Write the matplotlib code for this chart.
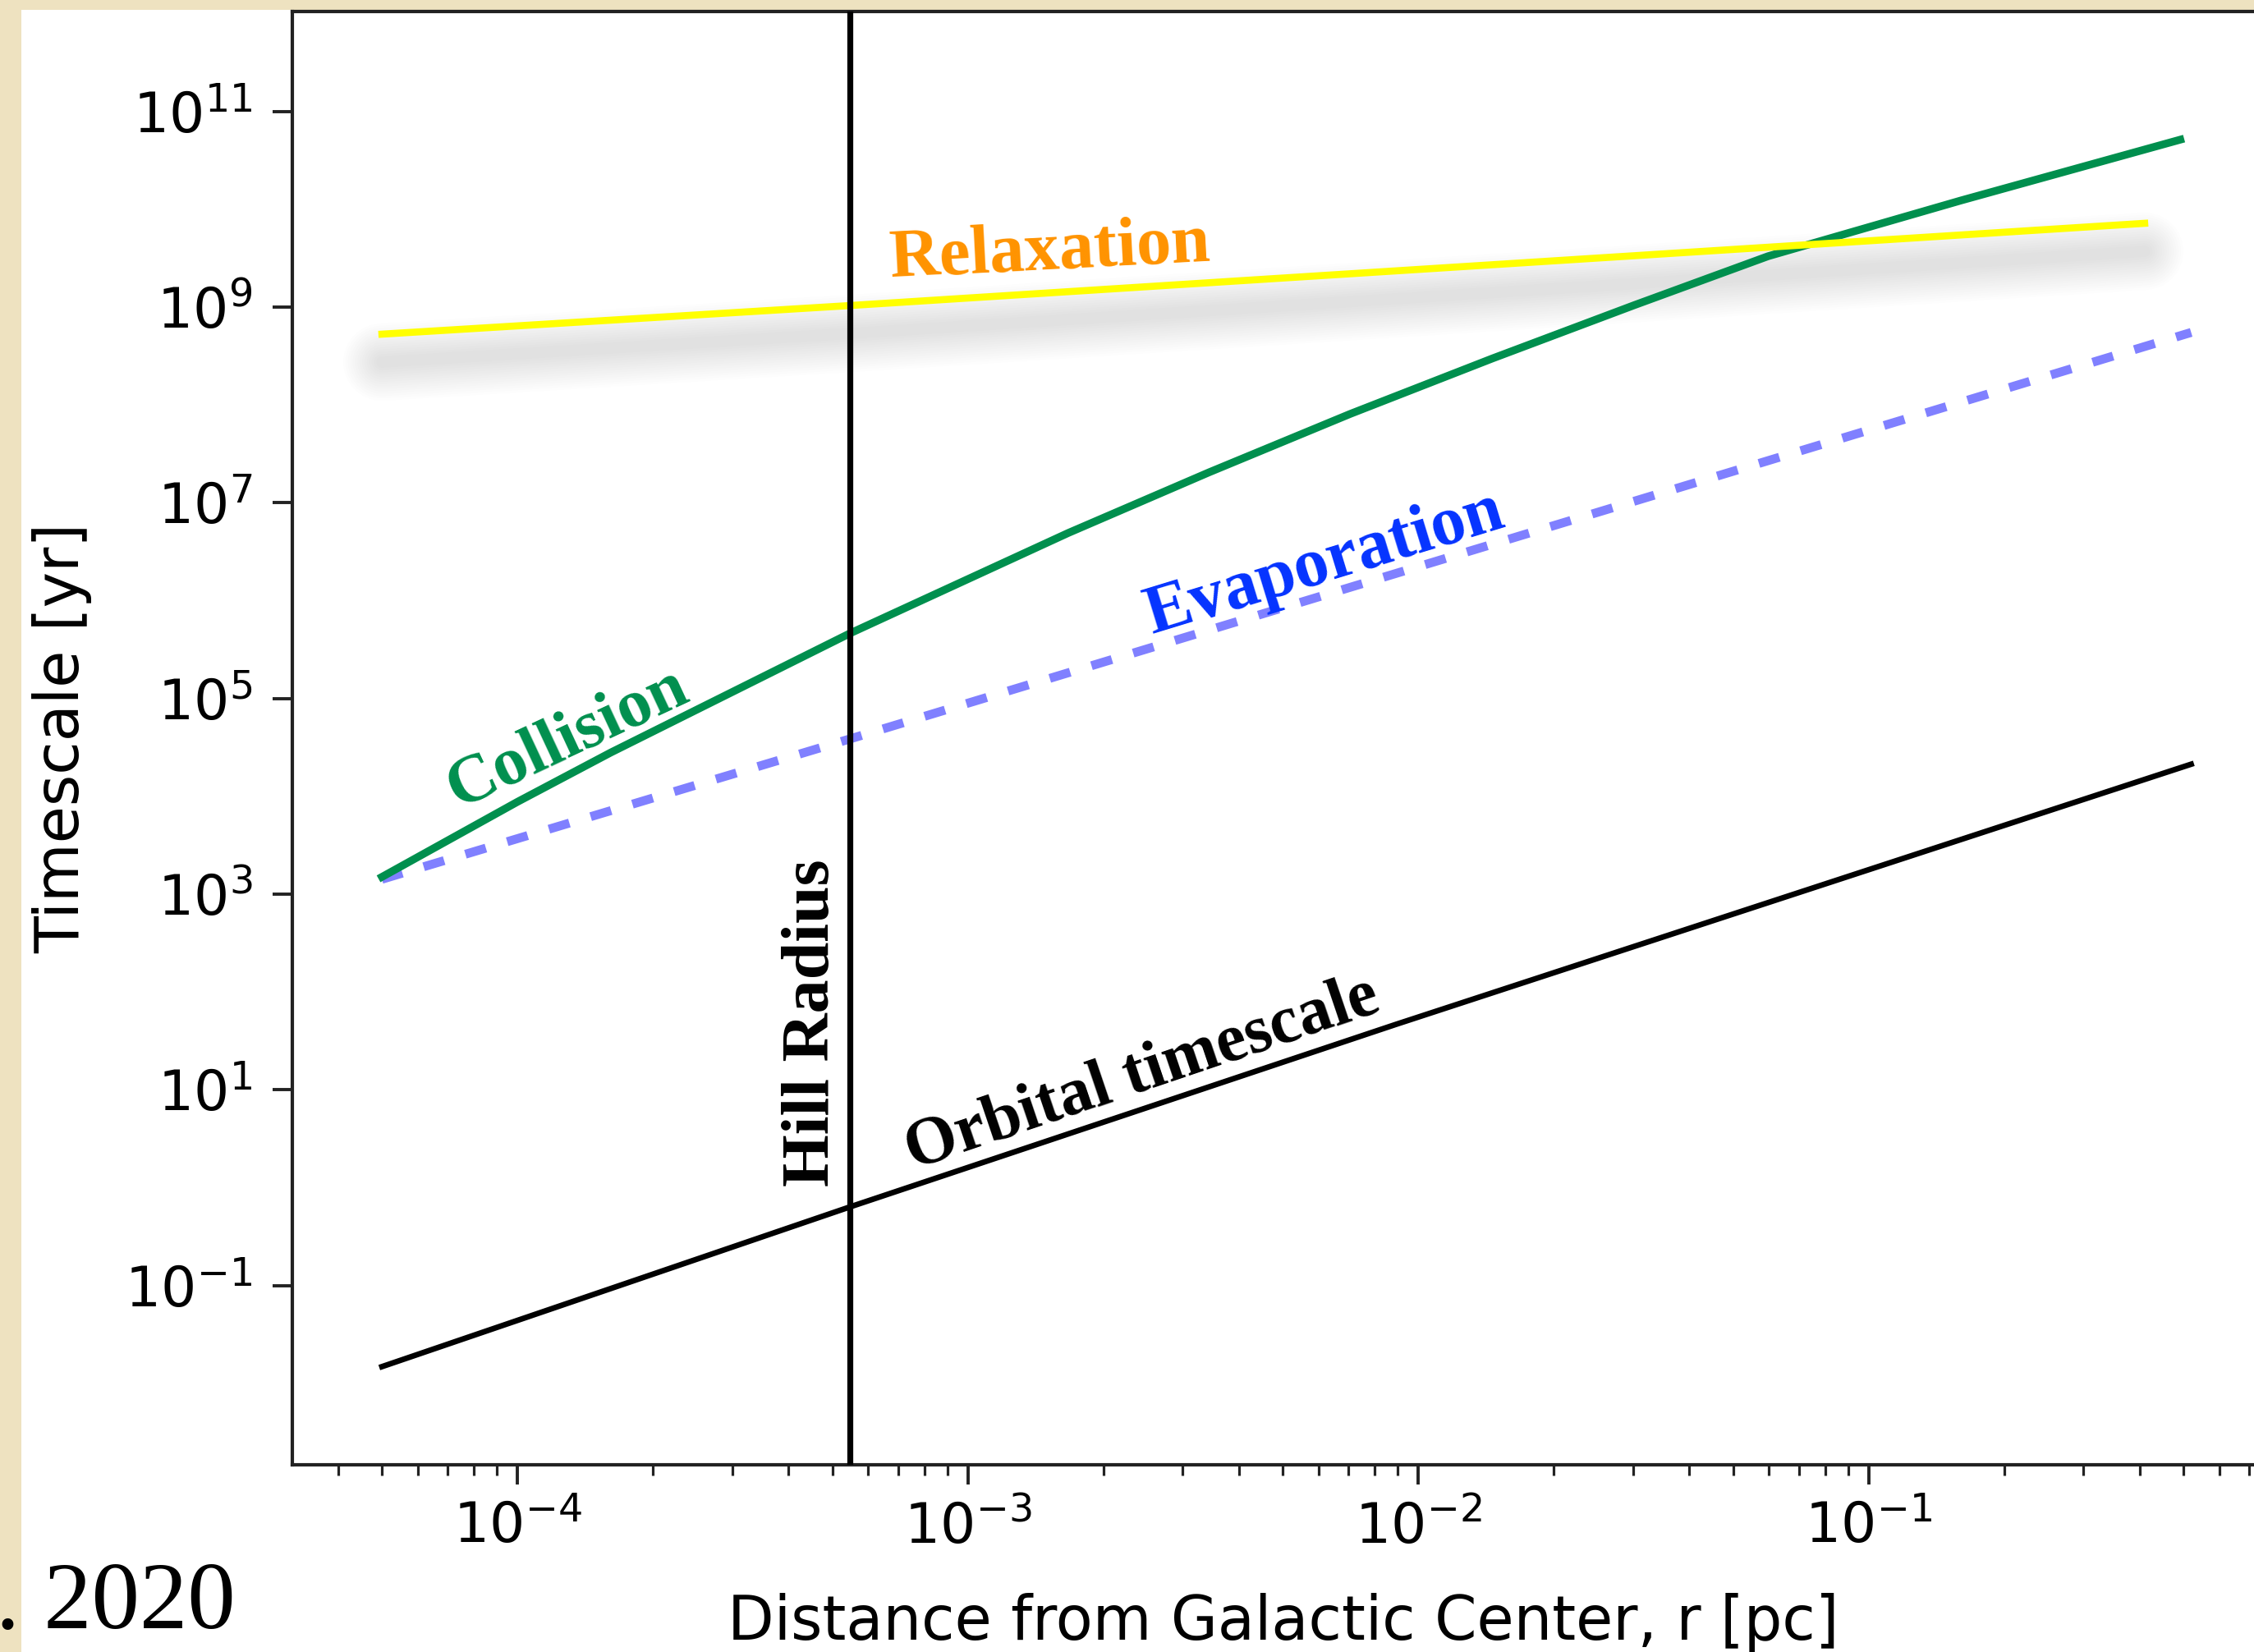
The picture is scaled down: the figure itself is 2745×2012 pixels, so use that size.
import matplotlib
matplotlib.use('Agg')
import matplotlib.pyplot as plt
import matplotlib.transforms as mtransforms
from matplotlib.patches import Rectangle
from matplotlib.ticker import NullLocator
import numpy as np

# values
r_collision = [5.0e-5, 1.0e-4, 1.61e-4, 5.47e-4, 1.67e-3, 3.43e-3, 7.06e-3, 1.46e-2, 3.01e-2, 5.98e-2, 0.160, 0.492]
t_collision = [1.50e3, 8.79e3, 2.80e4, 4.63e5, 4.92e6, 2.05e7, 8.11e7, 2.99e8, 1.045e9, 3.32e9, 1.23e10, 5.16e10]
r_evap = [5.0e-5, 5.48e-4, 0.52]
t_evap = [1.42e3, 3.87e4, 5.52e8]
r_relax = [5.0e-5, 5.48e-4, 0.41]
t_relax = [5.3e8, 1.04e9, 7.2e9]
r_orbital = [5.0e-5, 5.48e-4, 8.9e-3, 0.52]
t_orbital = [1.48e-2, 0.637, 46.5, 2.13e4]
r_hill = 5.48e-4

x_limits = (10**-4.5, 10**-0.1)
y_limits = (10**-2.833, 10**12.02)
y_ticks = [1e-1, 1e1, 1e3, 1e5, 1e7, 1e9, 1e11]

serif = ['Liberation Serif', 'DejaVu Serif']


def main():
    W, H, dpi = 2745, 2012, 100
    fig = plt.figure(figsize=(W / dpi, H / dpi), dpi=dpi, facecolor='#eee2c0')

    # white slide panel
    fig.patches.append(Rectangle((26 / W, 0), 1, (H - 12) / H, transform=fig.transFigure,
                                 facecolor='white', edgecolor='none', zorder=-10))

    ax = fig.add_axes([356 / W, 228 / H, 2413.4 / W, 1769.7 / H])
    ax.set_zorder(1)
    ax.set_facecolor('white')
    ax.set_xscale('log')
    ax.set_yscale('log')
    ax.set_xlim(*x_limits)
    ax.set_ylim(*y_limits)

    # soft shadow under the relaxation line
    shadow = mtransforms.offset_copy(ax.transData, fig=fig, x=0, y=-34, units='dots')
    for lw in np.linspace(68, 10, 15):
        ax.plot(r_relax, t_relax, color='black', alpha=0.007, lw=lw, transform=shadow,
                solid_capstyle='round', zorder=1)

    ax.plot(r_evap, t_evap, color='#8080ff', lw=7.8, dashes=(2.4, 2.5), zorder=2)
    ax.plot(r_orbital, t_orbital, color='black', lw=4.9, zorder=3)
    ax.plot(r_collision, t_collision, color='#008f4e', lw=6.8, zorder=4)
    ax.plot(r_relax, t_relax, color='#ffff00', lw=6.2, zorder=5)
    ax.axvline(r_hill, color='black', lw=5.2, zorder=6)

    lab = dict(fontfamily=serif, fontweight='bold', ha='center', va='baseline',
               rotation_mode='anchor', zorder=7)
    ax.text(10**-2.815, 10**9.392, 'Relaxation', color='#ff9300', fontsize=61, rotation=3, **lab)
    ax.text(10**-3.872, 10**4.437, 'Collision', color='#008f4e', fontsize=60, rotation=25, **lab)
    ax.text(10**-2.197, 10**6.208, 'Evaporation', color='#0533ff', fontsize=61, rotation=17, **lab)
    ax.text(10**-2.602, 10**1.004, 'Orbital timescale', color='black', fontsize=59, rotation=18.7, **lab)
    ax.text(10**-3.309, 10**1.684, 'Hill Radius', color='black', fontsize=59, rotation=90, **lab)

    ax.set_yticks(y_ticks)
    ax.yaxis.set_minor_locator(NullLocator())
    ax.tick_params(which='major', length=17, width=2.8, labelsize=49, color='#222222')
    ax.tick_params(which='minor', length=9.4, width=2.3, color='#222222')
    ax.tick_params(axis='x', which='major', pad=14)
    ax.tick_params(axis='y', which='major', pad=18)
    for s in ax.spines.values():
        s.set_linewidth(3)
        s.set_color('#222222')

    ax.set_xlabel('Distance from Galactic Center, r [pc]', fontsize=53)
    ax.xaxis.label.set_va('baseline')
    ax.xaxis.set_label_coords(0.5, (15 - 228) / 1769.7)
    ax.set_ylabel('Timescale [yr]', fontsize=53)
    ax.yaxis.label.set_va('baseline')
    ax.yaxis.label.set_rotation_mode('anchor')
    ax.yaxis.set_label_coords((96 - 356) / 2413.4, 0.5)

    fig.text(-5 / W, 29 / H, '. 2020', fontfamily=serif, fontsize=84, ha='left', va='baseline')

    fig.savefig('out.png', dpi=dpi, facecolor=fig.get_facecolor())


main()
